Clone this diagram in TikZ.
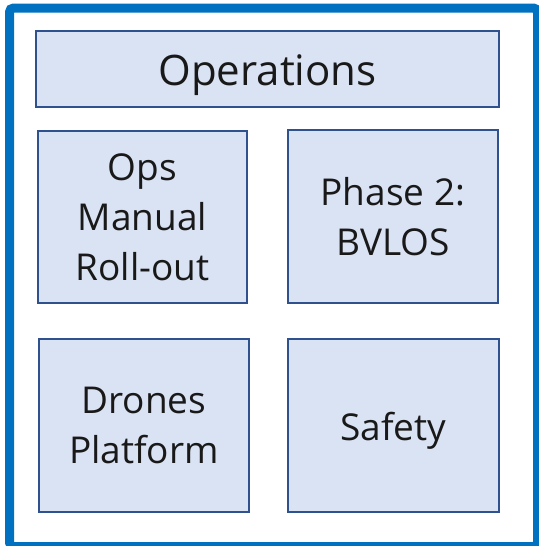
\documentclass[tikz,border=0pt]{standalone}
\usepackage{fontspec}
\setmainfont{Open Sans}
\definecolor{frameblue}{HTML}{0070C0}
\definecolor{boxfill}{HTML}{DAE3F3}
\definecolor{boxline}{HTML}{2F528F}
\begin{document}
\begin{tikzpicture}[x=1pt, y=-1pt,
        block/.style={draw=boxline, fill=boxfill, line width=2.5pt, inner sep=0pt,
            align=center, font=\fontsize{37}{50}\selectfont, text=black!90}]
        \useasboundingbox (0, 0) rectangle (538, 546);
        \draw [frameblue, line width=9pt, rounded corners=4pt] (9.5, 8) rectangle (537.5, 546.5);

        \node [block, minimum width=463pt, minimum height=76pt, font=\fontsize{42}{50}\selectfont,
            text height=43pt, text depth=10pt] (ops) at (267.5, 69) {Operations};
        \node [block, minimum width=209pt, minimum height=172pt] (manual) at (142.5, 217) {Ops\\Manual\\Roll-out};
        \node [block, minimum width=210pt, minimum height=173pt] (phase) at (393, 216.5) {Phase 2:\\BVLOS};
        \node [block, minimum width=210pt, minimum height=173pt] (drones) at (144, 425.5) {Drones\\Platform};
        \node [block, minimum width=211pt, minimum height=173pt,
            text height=39pt, text depth=9pt] (safety) at (393.5, 425.5) {Safety};
    \end{tikzpicture}
\end{document}
